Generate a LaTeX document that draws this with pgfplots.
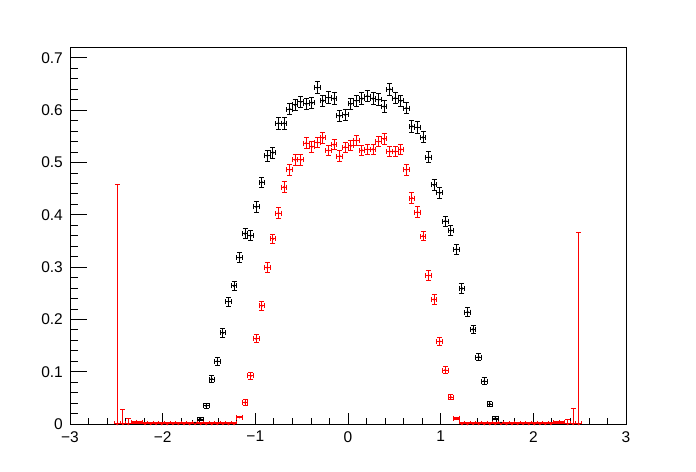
\documentclass[border=0pt]{standalone}
\usepackage{pgfplots}
\pgfplotsset{compat=1.18}
\usepackage{fontspec}
\setmainfont{Liberation Sans}

\pgfplotsset{
  histerr/.style={
    only marks, mark=*, mark size=0.6bp, line width=1bp,
    error bars/.cd, x dir=both, x explicit, y dir=both, y explicit,
    error bar style={line width=1bp},
    error mark options={rotate=90, mark size=2.5bp, line width=1bp, #1},
  },
  rootframe/.style={
    at={(70bp,48bp)}, anchor=south west,
    scale only axis, width=556bp, height=377bp,
    xmin=-3, xmax=3, ymin=0, ymax=0.7208,
    axis line style={line width=0.8bp},
    tick align=inside,
    xtick pos=left, ytick pos=left,
    tick style={line width=0.8bp, black},
    ticklabel style={font=\fontsize{15.5bp}{18bp}\selectfont},
    xticklabel style={anchor=north, inner sep=0pt, yshift=-7bp},
    yticklabel style={anchor=east, inner sep=0pt, xshift=-7bp},
  }
}

\begin{document}
\begin{tikzpicture}
\path[use as bounding box] (0,0) rectangle (696bp,472bp);
% x ticks only
\begin{axis}[rootframe,
  xtick={-3,-2,-1,0,1,2,3}, xticklabels={−3,−2,−1,0,1,2,3},
  minor x tick num=4,
  ytick=\empty,
  major tick length=11.3bp, minor tick length=5.7bp,
]
\end{axis}
% y ticks and data
\begin{axis}[rootframe,
  xtick=\empty,
  ytick={0,0.1,0.2,0.3,0.4,0.5,0.6,0.7}, yticklabels={0,0.1,0.2,0.3,0.4,0.5,0.6,0.7},
  minor y tick num=4,
  major tick length=16.7bp, minor tick length=8.3bp,
]
% black histogram
\addplot[black, histerr=black] table[x=x, y=y, x error=ex, y error=ey] {
x y ex ey
-1.65 0.002 0.03 0.0015
-1.59 0.009 0.03 0.003
-1.53 0.035 0.03 0.005
-1.47 0.086 0.03 0.006
-1.41 0.120 0.03 0.0075
-1.35 0.174 0.03 0.008
-1.29 0.234 0.03 0.0085
-1.23 0.264 0.03 0.009
-1.17 0.318 0.03 0.009
-1.11 0.364 0.03 0.0095
-1.05 0.360 0.03 0.0095
-0.99 0.415 0.03 0.010
-0.93 0.462 0.03 0.010
-0.87 0.513 0.03 0.0105
-0.81 0.519 0.03 0.0105
-0.75 0.575 0.03 0.011
-0.69 0.575 0.03 0.011
-0.63 0.602 0.03 0.011
-0.57 0.610 0.03 0.011
-0.51 0.616 0.03 0.011
-0.45 0.612 0.03 0.011
-0.39 0.614 0.03 0.011
-0.33 0.643 0.03 0.011
-0.27 0.618 0.03 0.011
-0.21 0.624 0.03 0.011
-0.15 0.622 0.03 0.011
-0.09 0.589 0.03 0.011
-0.03 0.591 0.03 0.011
0.03 0.612 0.03 0.011
0.09 0.618 0.03 0.011
0.15 0.622 0.03 0.011
0.21 0.627 0.03 0.011
0.27 0.622 0.03 0.011
0.33 0.620 0.03 0.011
0.39 0.607 0.03 0.011
0.45 0.640 0.03 0.011
0.51 0.623 0.03 0.011
0.57 0.618 0.03 0.011
0.63 0.604 0.03 0.011
0.69 0.569 0.03 0.011
0.75 0.567 0.03 0.011
0.81 0.548 0.03 0.0105
0.87 0.510 0.03 0.0105
0.93 0.457 0.03 0.010
0.99 0.442 0.03 0.010
1.05 0.388 0.03 0.0095
1.11 0.370 0.03 0.0095
1.17 0.334 0.03 0.009
1.23 0.259 0.03 0.009
1.29 0.214 0.03 0.0085
1.35 0.181 0.03 0.008
1.41 0.128 0.03 0.0075
1.47 0.082 0.03 0.006
1.53 0.038 0.03 0.005
1.59 0.011 0.03 0.003
1.65 0.002 0.03 0.0015
};
% red histogram
\addplot[red, histerr=red] table[x=x, y=y, x error=ex, y error=ey] {
x y ex ey
-2.49 0.000 0.03 0.457
-2.43 0.000 0.03 0.028
-2.37 0.000 0.03 0.011
-2.31 0.003 0.03 0.002
-2.25 0.003 0.03 0.002
-2.19 0.000 0.03 0.002
-2.13 0.000 0.03 0.002
-2.07 0.000 0.03 0.002
-2.01 0.000 0.03 0.002
-1.95 0.000 0.03 0.002
-1.89 0.000 0.03 0.002
-1.83 0.000 0.03 0.002
-1.77 0.000 0.03 0.002
-1.71 0.000 0.03 0.002
-1.65 0.000 0.03 0.002
-1.59 0.000 0.03 0.002
-1.53 0.000 0.03 0.002
-1.47 0.000 0.03 0.002
-1.41 0.000 0.03 0.002
-1.35 0.000 0.03 0.002
-1.29 0.000 0.03 0.002
-1.23 0.000 0.03 0.002
-1.17 0.013 0.03 0.0015
-1.11 0.041 0.03 0.005
-1.05 0.092 0.03 0.006
-0.99 0.163 0.03 0.008
-0.93 0.226 0.03 0.009
-0.87 0.299 0.03 0.009
-0.81 0.354 0.03 0.009
-0.75 0.403 0.03 0.010
-0.69 0.453 0.03 0.010
-0.63 0.486 0.03 0.010
-0.57 0.505 0.03 0.010
-0.51 0.505 0.03 0.010
-0.45 0.537 0.03 0.010
-0.39 0.530 0.03 0.010
-0.33 0.538 0.03 0.010
-0.27 0.547 0.03 0.010
-0.21 0.523 0.03 0.010
-0.15 0.534 0.03 0.010
-0.09 0.512 0.03 0.010
-0.03 0.529 0.03 0.010
0.03 0.532 0.03 0.010
0.09 0.542 0.03 0.010
0.15 0.523 0.03 0.010
0.21 0.525 0.03 0.010
0.27 0.525 0.03 0.010
0.33 0.540 0.03 0.010
0.39 0.545 0.03 0.010
0.45 0.521 0.03 0.010
0.51 0.521 0.03 0.010
0.57 0.525 0.03 0.010
0.63 0.486 0.03 0.010
0.69 0.432 0.03 0.010
0.75 0.405 0.03 0.010
0.81 0.359 0.03 0.009
0.87 0.284 0.03 0.009
0.93 0.238 0.03 0.009
0.99 0.158 0.03 0.008
1.05 0.103 0.03 0.006
1.11 0.051 0.03 0.005
1.17 0.011 0.03 0.0015
1.23 0.000 0.03 0.002
1.29 0.000 0.03 0.002
1.35 0.000 0.03 0.002
1.41 0.000 0.03 0.002
1.47 0.000 0.03 0.002
1.53 0.000 0.03 0.002
1.59 0.000 0.03 0.002
1.65 0.000 0.03 0.002
1.71 0.000 0.03 0.002
1.77 0.000 0.03 0.002
1.83 0.000 0.03 0.002
1.89 0.000 0.03 0.002
1.95 0.000 0.03 0.002
2.01 0.000 0.03 0.002
2.07 0.000 0.03 0.002
2.13 0.000 0.03 0.002
2.19 0.000 0.03 0.002
2.25 0.003 0.03 0.002
2.31 0.003 0.03 0.002
2.37 0.000 0.03 0.009
2.43 0.000 0.03 0.030
2.49 0.000 0.03 0.367
};
\end{axis}
\end{tikzpicture}
\end{document}
